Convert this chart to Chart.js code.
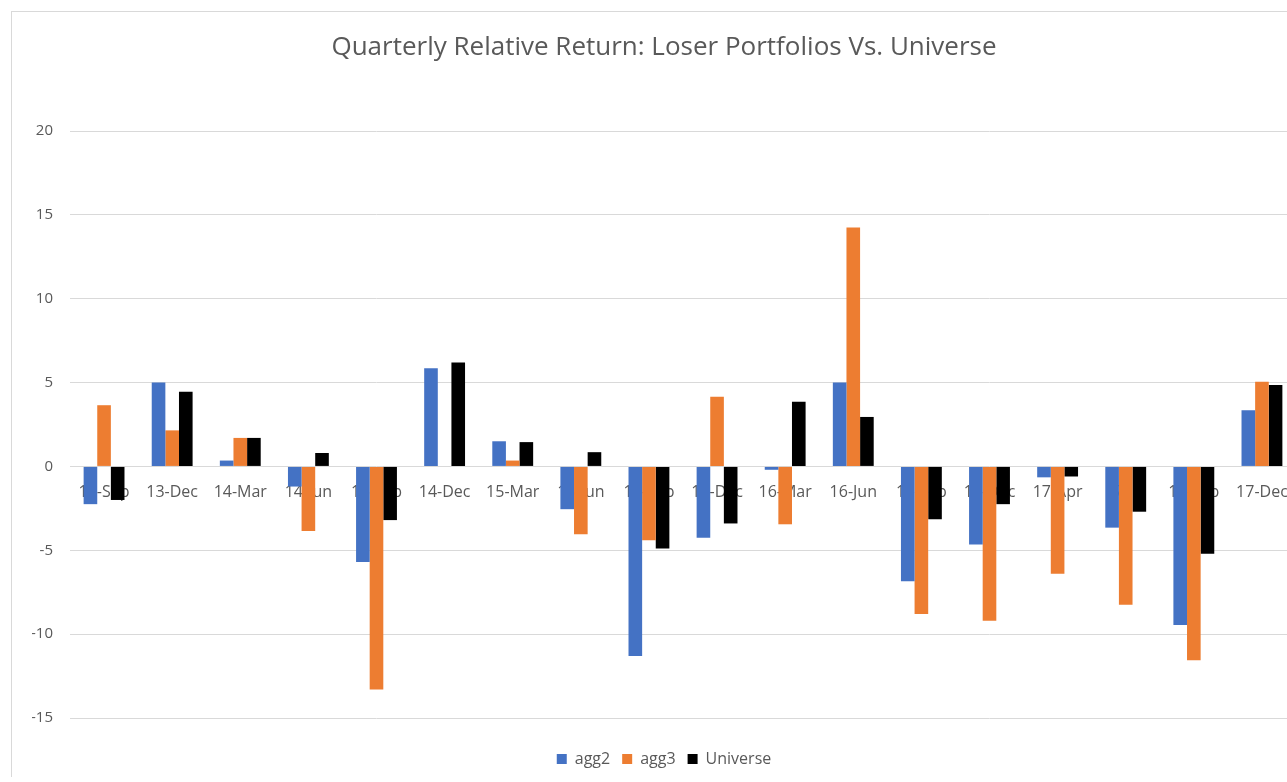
<!DOCTYPE html>
<html>
<head>
<meta charset="utf-8">
<script src="https://cdn.jsdelivr.net/npm/chart.js@4.4.1/dist/chart.umd.min.js"></script>
<style>
  html, body { margin: 0; padding: 0; background: #fff; overflow: hidden; }
  #frame {
    position: absolute; left: 11px; top: 11px;
    border-left: 1px solid #d9d9d9; border-top: 1px solid #d9d9d9;
  }
  #chart { display: block; }
</style>
</head>
<body>
<div id="frame"><canvas id="chart" width="1304" height="765"></canvas></div>
<script>
// Quarterly relative return data
const quarters = ['13-Sep', '13-Dec', '14-Mar', '14-Jun', '14-Sep', '14-Dec', '15-Mar', '15-Jun', '15-Sep',
                  '15-Dec', '16-Mar', '16-Jun', '16-Sep', '16-Dec', '17-Apr', '17-Jul', '17-Sep', '17-Dec'];
const agg2 = [-2.25, 5.0, 0.35, -1.2, -5.7, 5.85, 1.5, -2.55, -11.3, -4.25, -0.2, 5.0, -6.85, -4.65, -0.65, -3.65, -9.45, 3.35];
const agg3 = [3.65, 2.15, 1.7, -3.85, -13.3, 0, 0.35, -4.05, -4.4, 4.15, -3.45, 14.25, -8.8, -9.2, -6.4, -8.25, -11.55, 5.05];
const universe = [-2.0, 4.45, 1.7, 0.8, -3.2, 6.2, 1.45, 0.85, -4.9, -3.4, 3.85, 2.95, -3.15, -2.25, -0.6, -2.7, -5.2, 4.85];
const yTicks = { min: -15, max: 20, step: 5 };

const textGray = '#595959';
const gridGray = '#d9d9d9';

new Chart(document.getElementById('chart'), {
    type: 'bar',
    data: {
        labels: quarters,
        datasets: [
            { label: 'agg2', data: agg2, backgroundColor: '#4472C4' },
            { label: 'agg3', data: agg3, backgroundColor: '#ED7D31' },
            { label: 'Universe', data: universe, backgroundColor: '#000000' }
        ]
    },
    options: {
        responsive: false,
        animation: false,
        datasets: {
            bar: { categoryPercentage: 0.6, barPercentage: 1.0 }
        },
        layout: { padding: { left: 20, right: 20, top: 0, bottom: 0 } },
        scales: {
            x: {
                position: { y: 0 },  // labels sit under the zero line, like Excel
                grid: { display: false, drawTicks: false },
                border: { display: false },
                ticks: {
                    color: textGray,
                    font: { family: 'Open Sans', size: 16 },
                    padding: 16.4,
                    autoSkip: false,
                    maxRotation: 0
                }
            },
            y: {
                min: yTicks.min,
                max: yTicks.max,
                afterFit: function(scale) { scale.width = 38; },
                grid: { color: gridGray, drawTicks: false },
                border: { display: false },
                ticks: {
                    stepSize: yTicks.step,
                    color: textGray,
                    font: { family: 'Open Sans', size: 15 },
                    padding: 17
                }
            }
        },
        plugins: {
            title: {
                display: true,
                text: 'Quarterly Relative Return: Loser Portfolios Vs. Universe',
                color: textGray,
                font: { family: 'Open Sans', size: 26, weight: 'normal' },
                padding: { top: 20.4, bottom: 67.4 }
            },
            legend: {
                position: 'bottom',
                // empty title only keeps a gap between plot and legend
                title: {
                    display: true,
                    text: '',
                    font: { size: 10 },
                    padding: { top: 0, bottom: 9 }
                },
                labels: {
                    color: textGray,
                    font: { family: 'Open Sans', size: 16 },
                    boxWidth: 10,
                    boxHeight: 10,
                    padding: 12
                }
            },
            tooltip: { enabled: false }
        }
    }
});
</script>
</body>
</html>
